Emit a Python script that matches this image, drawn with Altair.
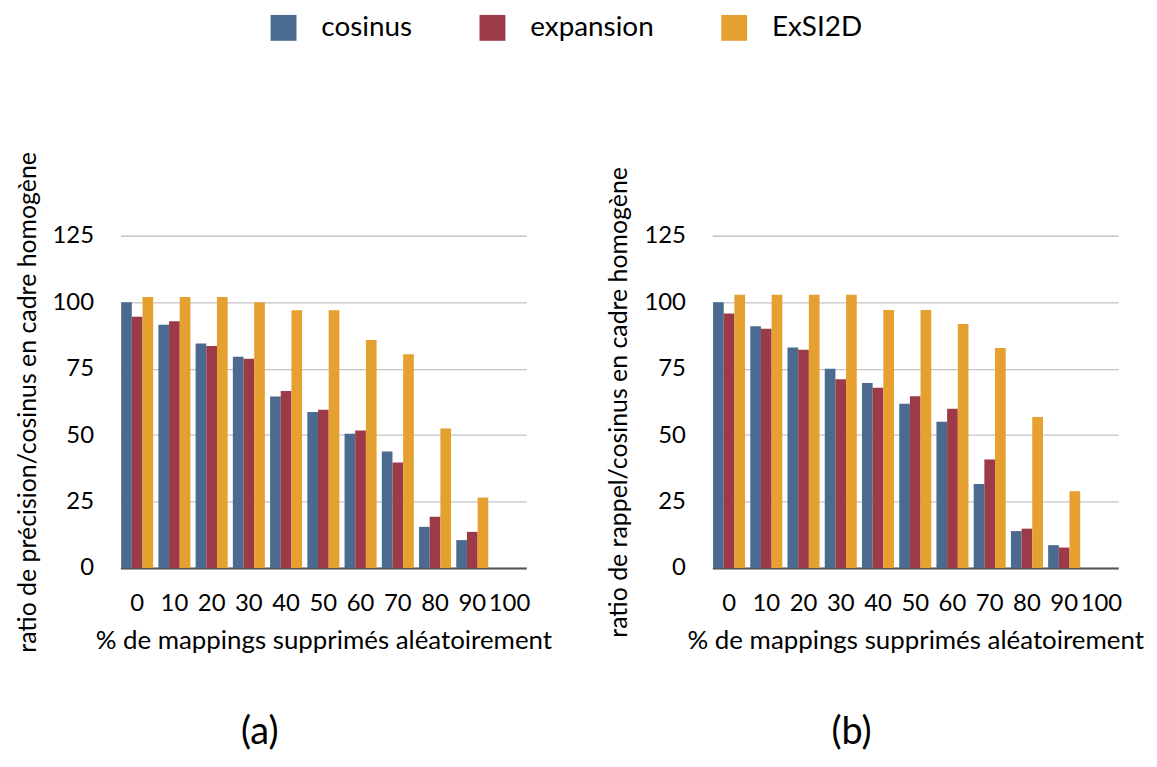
import altair as alt
import pandas as pd

categories = ["0", "10", "20", "30", "40", "50", "60", "70", "80", "90", "100"]
series = ["cosinus", "expansion", "ExSI2D"]
colors = ["#4a6a90", "#9c3a47", "#e6a030"]

# (a) precision ratio
prec_cosinus = [100, 91.5, 84.5, 79.5, 64.5, 58.7, 50.5, 43.8, 15.5, 10.5]
prec_expansion = [94.5, 92.8, 83.5, 78.7, 66.6, 59.5, 51.7, 39.7, 19.3, 13.6]
prec_exsi2d = [102, 102, 102, 100, 97, 97, 85.8, 80.4, 52.5, 26.5]

# (b) recall ratio
rap_cosinus = [100, 91, 83, 75, 69.6, 61.8, 55, 31.6, 13.9, 8.6]
rap_expansion = [95.8, 90, 82.1, 71, 67.8, 64.6, 59.9, 40.8, 14.8, 7.7]
rap_exsi2d = [102.8, 102.8, 102.8, 102.8, 97.1, 97.1, 91.8, 82.8, 56.8, 28.9]

captions = ["(a)", "(b)"]


def make_df(a, b, c):
    rows = []
    for name, vals in zip(series, [a, b, c]):
        for cat, v in zip(categories, vals):
            rows.append({"cat": cat, "serie": name, "val": v})
    return pd.DataFrame(rows)


FONT = "Lato"


def panel(df, ytitle, caption, legend):
    bars = alt.Chart(df).mark_bar().encode(
        x=alt.X(
            "cat:N",
            scale=alt.Scale(domain=categories, paddingInner=0.14, paddingOuter=0.02),
            axis=alt.Axis(
                title="% de mappings supprimés aléatoirement",
                labelAngle=0,
                domainColor="#555555",
                domainWidth=2,
                ticks=False,
                grid=False,
                labelPadding=24,
                titlePadding=12,
                titleFontSize=26,
            ),
        ),
        xOffset=alt.XOffset(
            "serie:N", scale=alt.Scale(domain=series, paddingInner=0, paddingOuter=0)
        ),
        y=alt.Y(
            "val:Q",
            scale=alt.Scale(domain=[0, 125], nice=False),
            axis=alt.Axis(
                values=[0, 25, 50, 75, 100, 125],
                title=ytitle,
                domain=False,
                ticks=False,
                grid=True,
                gridColor="#c4c4c4",
                gridWidth=1.3,
                labelPadding=27,
                titlePadding=12,
                titleFontSize=25,
            ),
        ),
        color=alt.Color(
            "serie:N",
            scale=alt.Scale(domain=series, range=colors),
            legend=legend,
        ),
    )
    cap = alt.Chart(pd.DataFrame({"t": [caption]})).mark_text(
        font=FONT, fontSize=38, color="black", baseline="middle", align="center"
    ).encode(text="t:N", x=alt.value(140), y=alt.value(500))
    return alt.layer(bars, cap).properties(width=408, height=334)


legend = alt.Legend(
    title=None,
    orient="none",
    direction="horizontal",
    legendX=150,
    legendY=-223,
    symbolType="square",
    symbolSize=676,
    symbolStrokeWidth=0,
    symbolOpacity=1,
    labelFontSize=28,
    labelFont=FONT,
    labelOffset=24,
    columnPadding=66,
)

left = panel(
    make_df(prec_cosinus, prec_expansion, prec_exsi2d),
    "ratio de précision/cosinus en cadre homogène",
    captions[0],
    legend,
)
right = panel(
    make_df(rap_cosinus, rap_expansion, rap_exsi2d),
    "ratio de rappel/cosinus en cadre homogène",
    captions[1],
    legend,
)

chart = (
    alt.hconcat(left, right, spacing=187, bounds="flush")
    .properties(padding={"left": 7, "top": 4, "right": 5, "bottom": 0}, background="white")
    .configure_view(stroke=None)
    .configure_axis(
        labelFont=FONT,
        labelFontSize=24,
        labelColor="black",
        titleFont=FONT,
        titleFontSize=24,
        titleFontWeight="normal",
        titleColor="black",
    )
)

chart.save("out.html", embed_options={"renderer": "svg", "actions": False})
